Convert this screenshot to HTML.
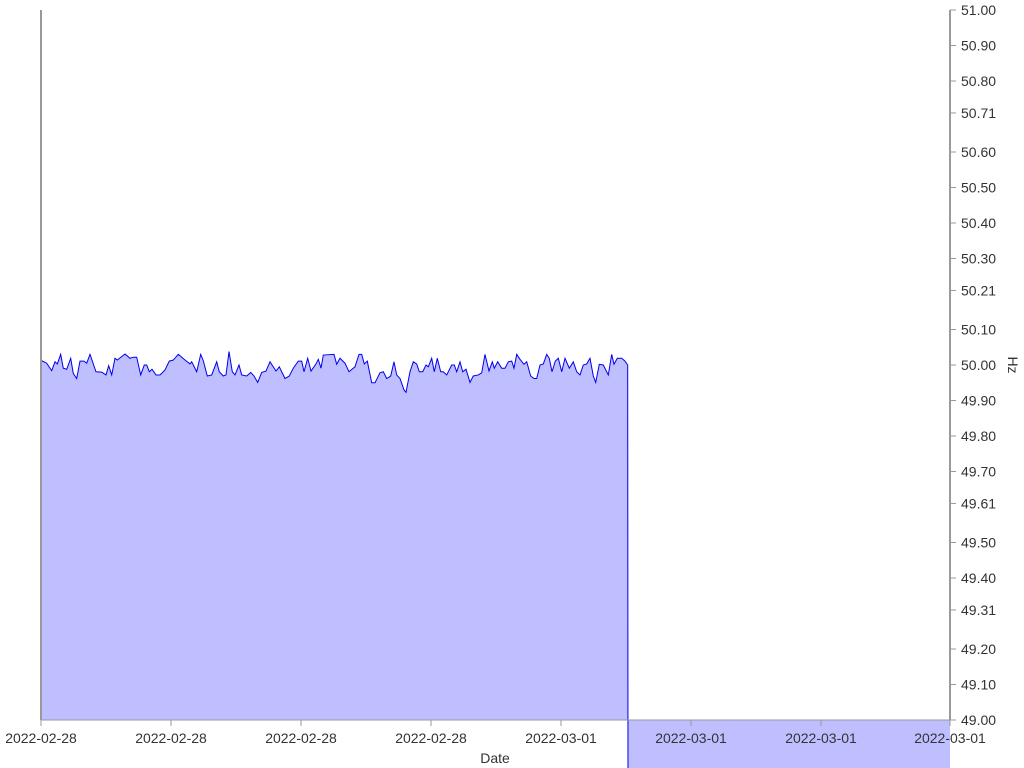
<!DOCTYPE html>
<html><head><meta charset="utf-8"><style>
html,body{margin:0;padding:0;background:#fff;}
svg{display:block;font-family:"Liberation Sans",sans-serif;}
</style></head><body>
<svg id="chart" width="1024" height="768"></svg>
<script>
const times=[0.7,5.7,10.7,14,16.3,19.7,22.3,25.7,29.7,32.3,35.7,39,43,45.7,49,55,60.7,65,67.7,70.7,74,76.3,84,89,92.3,95.7,99.7,103.3,105.7,108.3,111,115,119,124,128.3,132.3,137.3,144,149,150.7,155.7,159.7,162.3,166.3,170.7,175.7,178.3,182.3,185,188,191.3,194,198,200.7,205.7,209.7,213,216.7,220.7,225,229,235,238.3,244,248.3,252.3,257.3,260.7,263,266.7,270,275,277.3,280,282.3,293,295.7,299,304,308,314,318,320.7,323.3,326.3,330.7,334,339,342.3,345.7,349.7,353,355.7,359,363,365,369,372.3,375.7,378.3,381.7,385,387.3,390.7,393.3,396.3,399.7,402.3,405.7,410.7,413.3,415.7,419,421.7,425,429,432.3,437.3,440.7,444,448,451.3,453.3,456.7,460.7,464,467.3,470.7,473,475.7,479,483,485.7,489.7,493,495.7,499,502.3,505.7,508.3,511,514.3,517.3,520.7,524,528.3,532.3,535.7,539,542.3,545.7,549,552.3,554.7,558.3,562.3,567.3,570.7,573,576.3,580.7,584,586.7,587,909];
const values=[50.012,50.005,49.984,50.009,50.003,50.030,49.991,49.988,50.019,49.976,49.962,50.011,50.011,50.005,50.030,49.981,49.980,49.972,49.998,49.972,50.019,50.014,50.031,50.019,50.022,50.022,49.972,50.000,50.000,49.981,49.988,49.972,49.972,49.986,50.011,50.014,50.030,50.014,50.003,50.009,49.981,50.030,50.012,49.969,49.972,50.009,49.981,49.969,49.972,50.038,49.981,49.972,50.000,49.972,49.969,49.979,49.969,49.951,49.979,49.983,50.009,49.983,49.995,49.962,49.969,49.991,50.011,50.011,49.981,50.019,49.983,50.003,50.016,49.991,50.028,50.030,50.002,50.019,50.005,49.981,49.995,50.030,50.030,50.003,50.011,49.950,49.950,49.978,49.981,49.962,49.969,50.009,49.972,49.962,49.930,49.923,49.981,50.009,50.003,49.981,49.981,50.000,49.995,50.019,49.981,50.019,49.981,49.981,49.972,50.000,50.000,49.981,50.009,49.981,49.988,49.951,49.969,49.972,49.978,50.030,49.983,50.009,49.991,50.009,49.991,49.991,50.009,50.011,49.991,50.030,50.016,50.002,50.009,49.969,49.962,49.962,50.000,50.003,50.030,50.019,49.981,50.011,50.019,49.981,50.019,49.991,50.009,49.981,49.972,50.000,50.003,50.019,49.969,49.951,50.002,50.000,49.972,50.030,50.002,50.019,50.019,50.011,50.000,48.8,48.8];
const yTicks=[51.00,50.90,50.80,50.71,50.60,50.50,50.40,50.30,50.21,50.10,50.00,49.90,49.80,49.70,49.61,49.50,49.40,49.31,49.20,49.10,49.00];
const xTickTimes=[0,130,260,390,520,650,780,909];
const xTickLabels=["2022-02-28","2022-02-28","2022-02-28","2022-02-28","2022-03-01","2022-03-01","2022-03-01","2022-03-01"];

const NS="http://www.w3.org/2000/svg";
const svg=document.getElementById('chart');
const L=41,R=950,T=10,B=720;
const xS=t=>L+(t/909)*(R-L);
const yS=v=>T+(51-v)/2*(B-T);
function mk(tag,attrs,parent){const e=document.createElementNS(NS,tag);for(const k in attrs)e.setAttribute(k,attrs[k]);(parent||svg).appendChild(e);return e;}

// area + line
let d='M'+xS(times[0])+','+yS(values[0]);
for(let i=1;i<times.length;i++)d+=' L'+xS(times[i]).toFixed(2)+','+yS(values[i]).toFixed(2);
const area=mk('path',{d:d+' L'+xS(times[times.length-1])+','+B+' L'+xS(times[0])+','+B+' Z',fill:'#bfbfff',stroke:'none'});


const line=mk('path',{d:d,fill:'none',stroke:'#0000ee','stroke-width':1});



// axes
const la=mk('line',{x1:L,y1:T,x2:L,y2:B,stroke:'#999','stroke-width':2});


const ra=mk('line',{x1:R,y1:T,x2:R,y2:B,stroke:'#999','stroke-width':2});


const xa=mk('line',{x1:L,y1:B,x2:R,y2:B,stroke:'#999','stroke-width':1});



yTicks.forEach(v=>{
  const y=yS(v);
  const tk=mk('line',{x1:R,y1:y,x2:R+6,y2:y,stroke:'#999','stroke-width':1});
  
  
  const tx=mk('text',{x:R+11,y:y+5,'font-size':14,fill:'#333'});
  tx.textContent=v.toFixed(2);
  
  
});
xTickTimes.forEach((t,i)=>{
  const x=xS(t);
  const tk=mk('line',{x1:x,y1:B,x2:x,y2:B+6,stroke:'#999','stroke-width':1});
  
  
  const tx=mk('text',{x:x,y:B+23,'font-size':14,fill:'#333','text-anchor':'middle'});
  tx.textContent=xTickLabels[i];
  
  
});
const xt=mk('text',{x:495,y:763,'font-size':14,fill:'#333','text-anchor':'middle'});
xt.textContent='Date';


const yt=mk('text',{x:1008,y:365,'font-size':14,fill:'#333','text-anchor':'middle',transform:'rotate(90 1008 365)'});
yt.textContent='Hz';


</script>
</body></html>
